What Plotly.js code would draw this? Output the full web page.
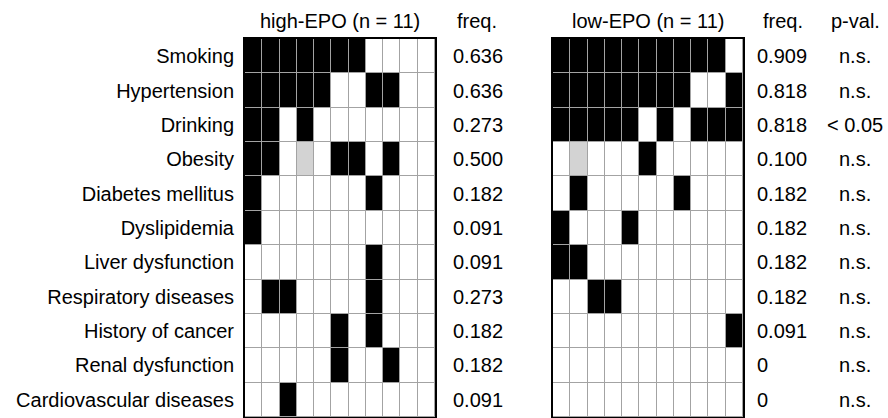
<!DOCTYPE html>
<html><head>
<meta charset="utf-8">
<script src="https://cdn.plot.ly/plotly-3.0.1.min.js"></script>
<style>html,body{margin:0;padding:0;background:#fff}</style>
</head><body>
<div id="chart" style="width:888px;height:418px"></div>
<script>
// ---- data ----
const conditions = ['Smoking','Hypertension','Drinking','Obesity','Diabetes mellitus','Dyslipidemia',
  'Liver dysfunction','Respiratory diseases','History of cancer','Renal dysfunction','Cardiovascular diseases'];
const patients = [1,2,3,4,5,6,7,8,9,10,11];
// 1 = present, 0 = absent, null = not available
const highEPO = [
  [1,1,1,1,1,1,1,0,0,0,0],
  [1,1,1,1,1,0,0,1,1,0,0],
  [1,1,0,1,0,0,0,0,0,0,0],
  [1,1,0,null,0,1,1,0,1,0,0],
  [1,0,0,0,0,0,0,1,0,0,0],
  [1,0,0,0,0,0,0,0,0,0,0],
  [0,0,0,0,0,0,0,1,0,0,0],
  [0,1,1,0,0,0,0,1,0,0,0],
  [0,0,0,0,0,1,0,1,0,0,0],
  [0,0,0,0,0,1,0,0,1,0,0],
  [0,0,1,0,0,0,0,0,0,0,0]
];
const lowEPO = [
  [1,1,1,1,1,1,1,1,1,1,0],
  [1,1,1,1,1,1,1,1,0,0,1],
  [1,1,1,1,1,0,1,0,1,1,1],
  [0,null,0,0,0,1,0,0,0,0,0],
  [0,1,0,0,0,0,0,1,0,0,0],
  [1,0,0,0,1,0,0,0,0,0,0],
  [1,1,0,0,0,0,0,0,0,0,0],
  [0,0,1,1,0,0,0,0,0,0,0],
  [0,0,0,0,0,0,0,0,0,0,1],
  [0,0,0,0,0,0,0,0,0,0,0],
  [0,0,0,0,0,0,0,0,0,0,0]
];
const highFreq = ['0.636','0.636','0.273','0.500','0.182','0.091','0.091','0.273','0.182','0.182','0.091'];
const lowFreq  = ['0.909','0.818','0.818','0.100','0.182','0.182','0.182','0.182','0.091','0','0'];
const pValues  = ['n.s.','n.s.','< 0.05','n.s.','n.s.','n.s.','n.s.','n.s.','n.s.','n.s.','n.s.'];
const groupTitles = ['high-EPO (n = 11)','low-EPO (n = 11)'];

// ---- drawing ----
const W = 888, H = 418;
const FONT = 'Liberation Sans, Arial, sans-serif';
const FS = 20;
const toZ = m => m.map(r => r.map(v => v === null ? 0.5 : v));
const cs = [[0,'#ffffff'],[0.25,'#ffffff'],[0.25,'#d3d3d3'],[0.75,'#d3d3d3'],[0.75,'#000000'],[1,'#000000']];

const common = {type:'heatmap', x: patients, y: conditions, colorscale: cs, zmin:0, zmax:1,
  showscale:false, xgap:1, ygap:1, hoverinfo:'skip'};
const traces = [
  Object.assign({}, common, {z: toZ(highEPO), xaxis:'x', yaxis:'y'}),
  Object.assign({}, common, {z: toZ(lowEPO), xaxis:'x2', yaxis:'y2'})
];

const px = v => v / W;
const py = v => 1 - v / H;
const gridTop = 39, gridBot = 417;

const xax = d => ({domain: d, range:[0.5, 11.5], showticklabels:false, ticks:'', showgrid:false,
  zeroline:false, showline:true, mirror:true, linewidth:2, linecolor:'#000', fixedrange:true});
const yax = (show) => ({domain:[py(gridBot), py(gridTop)], type:'category', autorange:'reversed',
  showticklabels: show, ticks:'', showgrid:false, zeroline:false, showline:true, mirror:true,
  linewidth:2, linecolor:'#000', ticklabelstandoff: 5, tickfont:{family:FONT, size:FS, color:'#000'}, fixedrange:true});

const ann = [];
const txt = (x, y, yref, text, anchor) => ann.push({x: x, xref:'paper', y: y, yref: yref, text: text,
  showarrow:false, xanchor: anchor, yanchor:'middle', font:{family:FONT, size:FS, color:'#000'}});
conditions.forEach((c, i) => {
  txt(px(451), c, 'y', highFreq[i], 'left');
  txt(px(755), c, 'y', lowFreq[i], 'left');
  txt(px(855), c, 'y', pValues[i], 'center');
});
const headY = py(21);
txt(px(340), headY, 'paper', groupTitles[0], 'center');
txt(px(648), headY, 'paper', groupTitles[1], 'center');
txt(px(477), headY, 'paper', 'freq.', 'center');
txt(px(783), headY, 'paper', 'freq.', 'center');
txt(px(855), headY, 'paper', 'p-val.', 'center');

const layout = {
  width: W, height: H, margin:{l:0, r:0, t:0, b:0},
  paper_bgcolor:'#ffffff', plot_bgcolor:'#a3a3a3',
  showlegend:false,
  xaxis: xax([px(245), px(435)]),
  yaxis: yax(true),
  xaxis2: Object.assign(xax([px(553), px(743)]), {anchor:'y2'}),
  yaxis2: Object.assign(yax(false), {anchor:'x2'}),
  annotations: ann
};
layout.xaxis.anchor = 'y';
layout.yaxis.anchor = 'x';
Plotly.newPlot('chart', traces, layout, {displayModeBar:false, staticPlot:true});
</script>
</body></html>
